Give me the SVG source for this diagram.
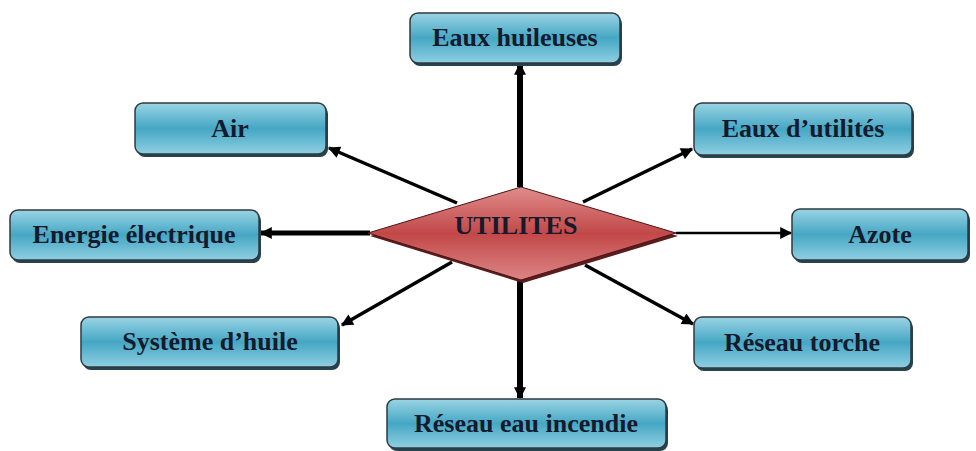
<svg xmlns="http://www.w3.org/2000/svg" width="976" height="451" viewBox="0 0 976 451">
<defs>
<linearGradient id="gb" x1="0" y1="0" x2="0" y2="1">
<stop offset="0" stop-color="#9ad4e4"/>
<stop offset="0.5" stop-color="#45a7c4"/>
<stop offset="1" stop-color="#8fcfe1"/>
</linearGradient>
<linearGradient id="gr" x1="0" y1="0" x2="0" y2="1">
<stop offset="0" stop-color="#df8c8c"/>
<stop offset="0.5" stop-color="#c24848"/>
<stop offset="1" stop-color="#dc8585"/>
</linearGradient>
<marker id="ah" viewBox="0 0 10 10" refX="9" refY="5" markerWidth="14" markerHeight="12" markerUnits="userSpaceOnUse" orient="auto">
<path d="M0,0 L10,5 L0,10 z" fill="#000"/>
</marker>
</defs>
<style>
.box{fill:url(#gb);stroke:#2e3a40;stroke-width:1.5}
.sh{fill:#27424c}
.lbl{font-family:"Liberation Serif","Times New Roman",serif;font-weight:bold;font-size:26px;fill:#151a2c;text-anchor:middle}
.ln{stroke:#000;fill:none;marker-end:url(#ah)}
</style>
<rect width="976" height="451" fill="#fff"/>
<g id="connectors">
<line class="ln" x1="520" y1="187" x2="520" y2="64" stroke-width="6"/>
<line class="ln" x1="520" y1="280" x2="520" y2="398" stroke-width="6"/>
<line class="ln" x1="370" y1="233" x2="261" y2="233" stroke-width="5"/>
<line class="ln" x1="676" y1="233" x2="791" y2="233" stroke-width="2.5"/>
<line class="ln" x1="457" y1="203" x2="329" y2="148" stroke-width="3.5"/>
<line class="ln" x1="583" y1="202" x2="692" y2="149" stroke-width="3.5"/>
<line class="ln" x1="452" y1="262" x2="342" y2="325" stroke-width="3.5"/>
<line class="ln" x1="585" y1="265" x2="693" y2="324" stroke-width="3.5"/>
</g>
<g id="utilites">
<polygon points="523,190 678,236 523,283 370,236" fill="#5a1c1c"/>
<polygon points="521,187 676,233 521,280 368,233" fill="url(#gr)" stroke="#4a1515" stroke-width="1"/>
<text class="lbl" x="516" y="234">UTILITES</text>
</g>
<g id="eaux-huileuses">
<rect class="sh" x="412" y="16" width="210" height="50" rx="8"/>
<rect class="box" x="410" y="13" width="210" height="50" rx="8"/>
<text class="lbl" x="515" y="46">Eaux huileuses</text>
</g>
<g id="air">
<rect class="sh" x="137" y="106" width="191" height="51" rx="8"/>
<rect class="box" x="135" y="103" width="191" height="51" rx="8"/>
<text class="lbl" x="230" y="137">Air</text>
</g>
<g id="eaux-utilites">
<rect class="sh" x="696" y="106" width="218" height="52" rx="8"/>
<rect class="box" x="694" y="103" width="218" height="52" rx="8"/>
<text class="lbl" x="803" y="137">Eaux d’utilités</text>
</g>
<g id="energie-electrique">
<rect class="sh" x="12" y="213" width="249" height="50" rx="8"/>
<rect class="box" x="10" y="210" width="249" height="50" rx="8"/>
<text class="lbl" x="134" y="243">Energie électrique</text>
</g>
<g id="azote">
<rect class="sh" x="794" y="212" width="176" height="51" rx="8"/>
<rect class="box" x="792" y="209" width="176" height="51" rx="8"/>
<text class="lbl" x="880" y="243">Azote</text>
</g>
<g id="systeme-huile">
<rect class="sh" x="83" y="320" width="257" height="50" rx="8"/>
<rect class="box" x="81" y="317" width="257" height="50" rx="8"/>
<text class="lbl" x="210" y="350">Système d’huile</text>
</g>
<g id="reseau-torche">
<rect class="sh" x="696" y="320" width="217" height="51" rx="8"/>
<rect class="box" x="694" y="317" width="217" height="51" rx="8"/>
<text class="lbl" x="802" y="351">Réseau torche</text>
</g>
<g id="reseau-eau-incendie">
<rect class="sh" x="389" y="402" width="279" height="49" rx="8"/>
<rect class="box" x="387" y="399" width="279" height="49" rx="8"/>
<text class="lbl" x="526" y="432">Réseau eau incendie</text>
</g>
</svg>
